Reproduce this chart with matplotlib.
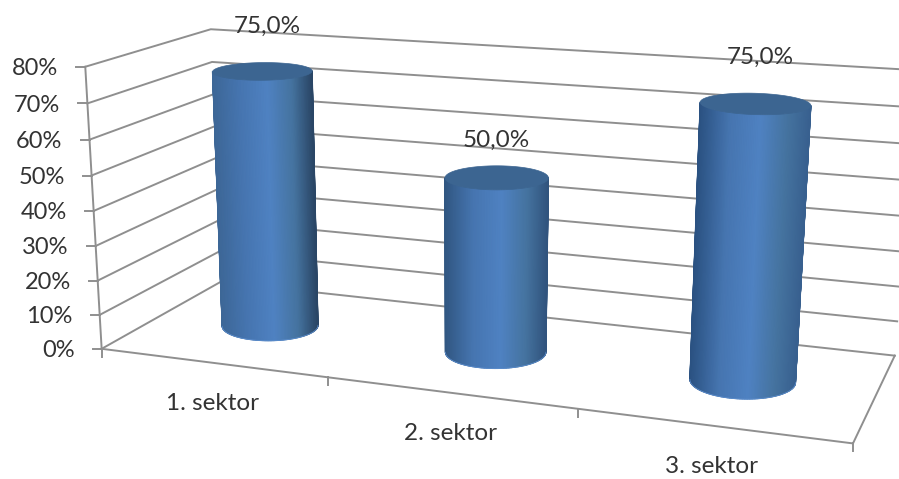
import matplotlib
matplotlib.use('Agg')
import matplotlib.pyplot as plt
from matplotlib.colors import LinearSegmentedColormap
from matplotlib.patches import Polygon
import numpy as np

# data
categories = ['1. sektor', '2. sektor', '3. sektor']
values = [75.0, 50.0, 75.0]
value_labels = ['75,0%', '50,0%', '75,0%']
levels = [0, 10, 20, 30, 40, 50, 60, 70, 80]

# style
LINE = '#8f8f8f'
TEXT = '#333333'
plt.rcParams['font.family'] = ['Lato', 'DejaVu Sans']
FS_AXIS = 17
FS_LABEL = 17.5
LW = 1.4
BAR_DX = [0.074, 0.071, 0.068]
BAR_DY = 0.215
BAR_TILT = [-0.01, 0.0, 0.03]
LEFT_EDGE = ['#3d6797', '#315782', '#2b5282']
RIGHT_EDGE = ['#2a4666', '#31547e', '#38608f']
LIGHT = '#4f82c2'
TOP_COLOR = '#3c6591'
LABEL_OFFSET = [(5, -45), (0, -38), (5, -47)]

# box corners (x, depth, height) and where they land on the picture
calib = [
    ((0, 0, 0), (102, 349)), ((0, 0, 1), (85, 66)),
    ((0, 1, 0), (220, 281)), ((0, 1, 1), (211, 30)),
    ((1, 1, 0), (895, 356)), ((1, 1, 1), (915, 70)),
    ((1, 0, 0), (853, 442)),
    ((1 / 3, 0, 0), (329, 378)), ((2 / 3, 0, 0), (577, 410)),
]


def fit_camera(points):
    A, b = [], []
    for (X, Y, Z), (u, v) in points:
        A.append([X, Y, Z, 1, 0, 0, 0, 0, -u * X, -u * Y, -u * Z])
        b.append(u)
        A.append([0, 0, 0, 0, X, Y, Z, 1, -v * X, -v * Y, -v * Z])
        b.append(v)
    p = np.linalg.lstsq(np.array(A, float), np.array(b, float), rcond=None)[0]
    return np.append(p, 1).reshape(3, 4)


CAM = fit_camera(calib)


def proj(x, d, val):
    q = CAM @ np.array([x, d, val / levels[-1], 1.0])
    return q[0] / q[2], q[1] / q[2]


def ellipse_frame(i, x, val):
    # screen-space size of the round section at this spot
    cx, cy = proj(x, 0.5, val)
    xl, _ = proj(x - BAR_DX[i], 0.5, val)
    xr, _ = proj(x + BAR_DX[i], 0.5, val)
    _, yb = proj(x, 0.5 - BAR_DY, val)
    _, yf = proj(x, 0.5 + BAR_DY, val)
    return cx, cy, (xr - xl) / 2, BAR_TILT[i], abs(yb - yf) / 2


def ring(frame, t):
    # t runs from -1 (left edge) to 1 (right edge) along the front half
    cx, cy, rx, tilt, ry = frame
    return cx + rx * t, cy + rx * t * tilt + ry * np.sqrt(np.clip(1 - t ** 2, 0, 1))


def draw_bar(ax, i, x, val):
    low = ellipse_frame(i, x, 0)
    high = ellipse_frame(i, x, val)
    t = -np.cos(np.linspace(0, np.pi, 101))
    xl, yl = ring(low, t)
    xh, yh = ring(high, t)
    cmap = LinearSegmentedColormap.from_list(
        f'bar{i}', [(0, LEFT_EDGE[i]), (0.27, '#4675b0'), (0.55, LIGHT), (0.8, '#45739f'), (1, RIGHT_EDGE[i])])
    X = np.vstack([xh, xl])
    Y = np.vstack([yh, yl])
    C = np.vstack([t, t]) / 2 + 0.5
    ax.pcolormesh(X, Y, C, shading='gouraud', cmap=cmap, vmin=0, vmax=1, zorder=3)
    # smooth the mesh outline
    ax.plot([xl[0], xh[0]], [yl[0], yh[0]], color=LEFT_EDGE[i], lw=0.9, zorder=3)
    ax.plot([xl[-1], xh[-1]], [yl[-1], yh[-1]], color=RIGHT_EDGE[i], lw=0.9, zorder=3)
    ax.plot(xl, yl, color='#5b8ccb', lw=0.6, zorder=3)
    # top cap
    cx, cy, rx, tilt, ry = high
    a = np.linspace(0, 2 * np.pi, 120)
    cap = np.column_stack([cx + rx * np.cos(a), cy + rx * np.cos(a) * tilt + ry * np.sin(a)])
    ax.add_patch(Polygon(cap, closed=True, facecolor=TOP_COLOR, edgecolor=TOP_COLOR, linewidth=0.5, zorder=4))
    return high


fig = plt.figure(figsize=(8.99, 4.79), dpi=100)
ax = fig.add_axes([0, 0, 1, 1])
ax.axis('off')

# walls
for lv in levels:
    pts = [proj(0, 0, lv), proj(0, 1, lv), proj(1, 1, lv)]
    ax.plot(*zip(*pts), color=LINE, lw=LW, zorder=1)
    x0, y0 = proj(0, 0, lv)
    ax.plot([x0 - 9, x0], [y0, y0], color=LINE, lw=LW, zorder=1)
    ax.text(x0 - 27, y0 + 2, f'{lv}%', ha='right', va='center', fontsize=FS_AXIS, color=TEXT)

ax.plot(*zip(proj(0, 0, 0), proj(0, 0, levels[-1])), color=LINE, lw=LW, zorder=1)
ax.plot(*zip(proj(0, 0, 0), proj(1, 0, 0), proj(1, 1, 0)), color=LINE, lw=LW, zorder=1)

n = len(categories)
for k in range(n + 1):
    x0, y0 = proj(k / n, 0, 0)
    ax.plot([x0, x0], [y0, y0 + 8], color=LINE, lw=LW, zorder=1)

for i, cat in enumerate(categories):
    x = (i + 0.5) / n
    x0, y0 = proj(x, 0, 0)
    ax.text(x0, y0 + 41, cat, ha='center', va='center', fontsize=FS_LABEL, color=TEXT)
    frame = draw_bar(ax, i, x, values[i])
    ax.text(frame[0] + LABEL_OFFSET[i][0], frame[1] + LABEL_OFFSET[i][1], value_labels[i],
            ha='center', va='center', fontsize=FS_LABEL, color=TEXT, zorder=5)

ax.set_xlim(0, 899)
ax.set_ylim(479, 0)
fig.savefig('out.png', dpi=100)
